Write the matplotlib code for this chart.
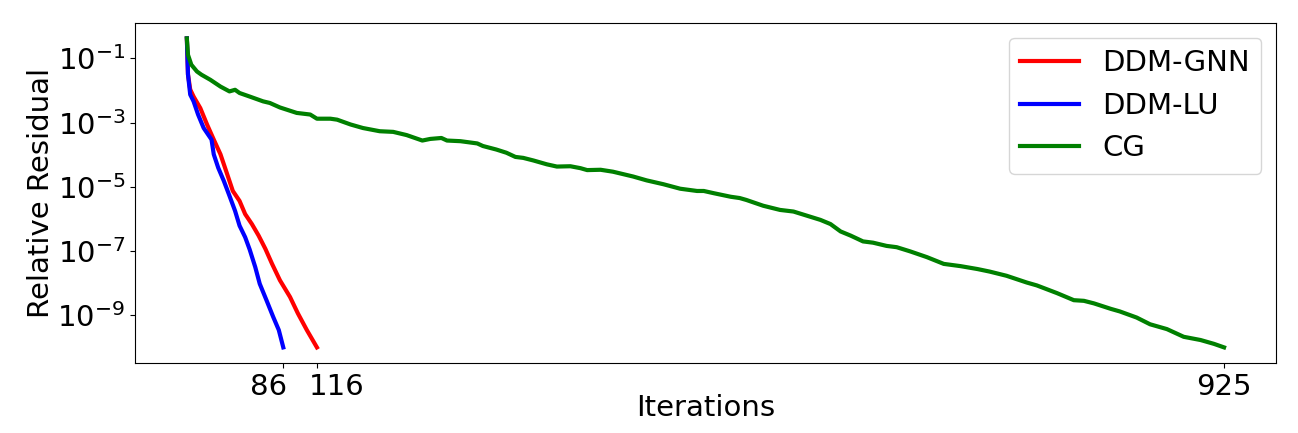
import matplotlib
matplotlib.use("Agg")
from matplotlib import pyplot as plt
from matplotlib.ticker import NullLocator
from matplotlib.transforms import ScaledTranslation
import numpy as np

# iterations and log10 of relative residual
gnn_iter = [0, 1, 3, 6, 12, 18, 24, 30, 36, 41, 47, 52, 58, 64, 70, 76, 83, 92, 99, 107, 116]
gnn_log = [-0.38, -1.5, -1.97, -2.19, -2.55, -3.06, -3.53, -3.99, -4.61, -5.13, -5.44,
           -5.85, -6.16, -6.52, -6.93, -7.40, -7.91, -8.43, -8.94, -9.46, -10.0]

lu_iter = [0, 1, 3, 6, 10, 15, 22, 24, 28, 33, 38, 43, 47, 52, 56, 61, 65, 71, 77, 82, 86]
lu_log = [-0.38, -1.5, -2.13, -2.34, -2.75, -3.17, -3.53, -3.99, -4.41, -4.82, -5.28,
          -5.75, -6.21, -6.57, -6.95, -7.50, -8.02, -8.53, -9.05, -9.46, -10.0]

cg_iter = [0, 1, 4, 9, 13, 21, 30, 38, 43, 47, 56, 68, 74, 83, 98, 110, 116, 128, 134,
           146, 157, 172, 184, 196, 210, 217, 227, 232, 244, 259, 264, 276, 285, 293,
           300, 309, 321, 330, 342, 351, 357, 369, 380, 398, 410, 425, 440, 455, 461,
           470, 485, 493, 499, 514, 529, 541, 553, 565, 574, 583, 592, 603, 612, 624,
           633, 645, 660, 675, 690, 705, 716, 731, 749, 758, 776, 791, 800, 809, 824,
           832, 847, 859, 874, 889, 904, 916, 925]
cg_log = [-0.38, -0.89, -1.20, -1.41, -1.51, -1.67, -1.88, -2.03, -1.98, -2.08, -2.19,
          -2.34, -2.39, -2.53, -2.70, -2.75, -2.88, -2.88, -2.91, -3.06, -3.17, -3.27,
          -3.29, -3.39, -3.56, -3.51, -3.48, -3.56, -3.58, -3.65, -3.73, -3.84, -3.94,
          -4.07, -4.10, -4.18, -4.30, -4.37, -4.36, -4.42, -4.48, -4.47, -4.53, -4.68,
          -4.80, -4.92, -5.06, -5.13, -5.13, -5.20, -5.31, -5.35, -5.41, -5.59, -5.72,
          -5.77, -5.90, -6.03, -6.16, -6.39, -6.52, -6.70, -6.74, -6.84, -6.88, -7.01,
          -7.19, -7.40, -7.47, -7.56, -7.64, -7.77, -7.98, -8.07, -8.31, -8.53, -8.55,
          -8.63, -8.80, -8.88, -9.07, -9.28, -9.43, -9.67, -9.77, -9.89, -10.0]

x_ticks = [86, 116, 925]
y_ticks = [1e-1, 1e-3, 1e-5, 1e-7, 1e-9]

fig = plt.figure(figsize=(12.98, 4.33), dpi=100)
ax = fig.add_axes([0.104, 0.162, 0.879, 0.785])

ax.plot(gnn_iter, 10.0 ** np.array(gnn_log), color="red", lw=3, label="DDM-GNN")
ax.plot(lu_iter, 10.0 ** np.array(lu_log), color="blue", lw=3, label="DDM-LU")
ax.plot(cg_iter, 10.0 ** np.array(cg_log), color="green", lw=3, label="CG")

ax.set_yscale("log")
ax.set_xticks(x_ticks)
ax.set_yticks(y_ticks)
ax.yaxis.set_minor_locator(NullLocator())
ax.tick_params(labelsize=21)
ax.set_xlabel("Iterations", fontsize=21, labelpad=-5)
ax.set_ylabel("Relative Residual", fontsize=21, labelpad=2)
ax.legend(loc="upper right", fontsize=21)

# nudge the two close labels apart so they don't collide
labels = ax.get_xticklabels()
for lab, dx in zip(labels, [-0.15, 0.2, 0.0]):
    lab.set_transform(lab.get_transform() + ScaledTranslation(dx, 0, fig.dpi_scale_trans))

fig.savefig("out.png", dpi=100)
